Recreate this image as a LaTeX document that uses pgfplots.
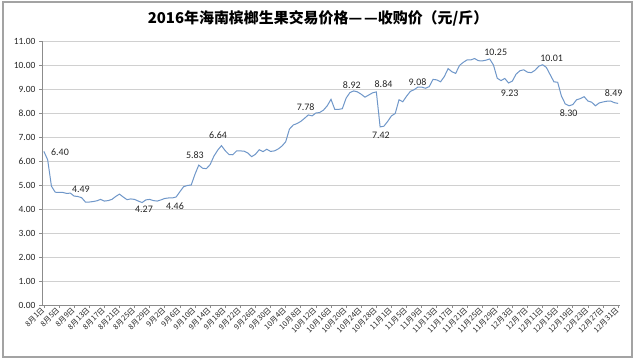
\documentclass[border=0pt]{standalone}
\usepackage{pgfplots}
\pgfplotsset{compat=1.18}
\usepackage{fontspec}
\setmainfont{Carlito}
\newfontfamily\cjk{Noto Sans CJK SC}
\definecolor{lineblue}{HTML}{6F97C9}
\definecolor{gridgray}{HTML}{D0D0D0}
\definecolor{axisgray}{HTML}{8C8C8C}
\begin{document}
\begin{tikzpicture}[x=1bp,y=1bp]
\useasboundingbox (0,0) rectangle (636,360);
\fill[white] (0,0) rectangle (636,360);
\draw[axisgray!80, line width=1.6bp] (3,3) rectangle (632,358);
\node[font=\cjk\bfseries\fontsize{15}{16}\selectfont] at (318,342) {2016年海南槟榔生果交易价格—\kern2bp—收购价（元/斤）};
\begin{axis}[
  at={(42bp,55bp)}, anchor=south west, scale only axis,
  width=578bp, height=264bp,
  xmin=-0.5, xmax=152.5, ymin=0, ymax=11,
  ytick={0,1,...,11},
  xtick={0,4,...,152},
  xticklabels={8月1日,8月5日,8月9日,8月13日,8月17日,8月21日,8月25日,8月29日,9月2日,9月6日,9月10日,9月14日,9月18日,9月22日,9月26日,9月30日,10月4日,10月8日,10月12日,10月16日,10月20日,10月24日,10月28日,11月1日,11月5日,11月9日,11月13日,11月17日,11月21日,11月25日,11月29日,12月3日,12月7日,12月11日,12月15日,12月19日,12月23日,12月27日,12月31日},
  xticklabel style={rotate=45, anchor=east, font=\cjk\fontsize{7.5}{8}\selectfont, text=black!85, inner sep=1bp},
  yticklabel style={font=\fontsize{9.5}{10}\selectfont, text=black!85},
  /pgf/number format/.cd, fixed, fixed zerofill, precision=2, assume math mode=true,
  /pgfplots/.cd,
  ymajorgrids, grid style={gridgray, line width=0.8bp},
  axis lines=left, axis line style={-, axisgray, line width=0.8bp},
  tick align=outside, major tick length=3bp, tick style={axisgray, line width=0.6bp},
  clip=false,
]
\addplot[color=lineblue, line width=1bp, mark=none] coordinates {
(0,6.40) (1,6.05) (2,4.95) (3,4.70) (4,4.69) (5,4.69) (6,4.65) (7,4.66) (8,4.54) (9,4.52)
(10,4.47) (11,4.29) (12,4.29) (13,4.31) (14,4.34) (15,4.40) (16,4.33) (17,4.35) (18,4.40) (19,4.52)
(20,4.62) (21,4.50) (22,4.39) (23,4.42) (24,4.40) (25,4.33) (26,4.27) (27,4.38) (28,4.40) (29,4.35)
(30,4.33) (31,4.38) (32,4.44) (33,4.46) (34,4.46) (35,4.50) (36,4.72) (37,4.93) (38,4.98) (39,5.00)
(40,5.45) (41,5.83) (42,5.70) (43,5.68) (44,5.85) (45,6.20) (46,6.45) (47,6.64) (48,6.43) (49,6.27)
(50,6.26) (51,6.42) (52,6.42) (53,6.41) (54,6.33) (55,6.18) (56,6.28) (57,6.47) (58,6.39) (59,6.49)
(60,6.40) (61,6.42) (62,6.50) (63,6.62) (64,6.80) (65,7.33) (66,7.50) (67,7.56) (68,7.65) (69,7.78)
(70,7.92) (71,7.88) (72,8.00) (73,8.02) (74,8.12) (75,8.30) (76,8.57) (77,8.15) (78,8.15) (79,8.18)
(80,8.62) (81,8.85) (82,8.92) (83,8.88) (84,8.78) (85,8.66) (86,8.75) (87,8.84) (88,8.88) (89,7.42)
(90,7.45) (91,7.65) (92,7.88) (93,7.98) (94,8.55) (95,8.47) (96,8.70) (97,8.90) (98,8.97) (99,9.08)
(100,9.08) (101,9.03) (102,9.10) (103,9.40) (104,9.38) (105,9.30) (106,9.52) (107,9.85) (108,9.72) (109,9.65)
(110,9.98) (111,10.11) (112,10.21) (113,10.21) (114,10.27) (115,10.18) (116,10.17) (117,10.20) (118,10.25) (119,10.00)
(120,9.45) (121,9.35) (122,9.44) (123,9.25) (124,9.33) (125,9.62) (126,9.76) (127,9.80) (128,9.70) (129,9.68)
(130,9.78) (131,9.95) (132,10.01) (133,9.90) (134,9.60) (135,9.30) (136,9.28) (137,8.70) (138,8.38) (139,8.30)
(140,8.35) (141,8.55) (142,8.60) (143,8.68) (144,8.50) (145,8.45) (146,8.30) (147,8.42) (148,8.46) (149,8.49)
(150,8.50) (151,8.43) (152,8.40)
};
\begin{scope}[every node/.style={font=\fontsize{10}{11}\selectfont, text=black!85}]
\node at (axis cs:4.26,6.37) {6.40};
\node at (axis cs:9.8,4.83) {4.49};
\node at (axis cs:26.5,4.00) {4.27};
\node at (axis cs:34.7,4.12) {4.46};
\node at (axis cs:39.97,6.25) {5.83};
\node at (axis cs:46.1,7.08) {6.64};
\node at (axis cs:69.3,8.25) {7.78};
\node at (axis cs:81.5,9.17) {8.92};
\node at (axis cs:89.9,9.21) {8.84};
\node at (axis cs:89.2,7.08) {7.42};
\node at (axis cs:98.9,9.29) {9.08};
\node at (axis cs:119.6,10.54) {10.25};
\node at (axis cs:123.3,8.83) {9.23};
\node at (axis cs:134.4,10.29) {10.01};
\node at (axis cs:138.9,8.0) {8.30};
\node at (axis cs:150.8,8.83) {8.49};
\end{scope}
\end{axis}
\end{tikzpicture}
\end{document}
